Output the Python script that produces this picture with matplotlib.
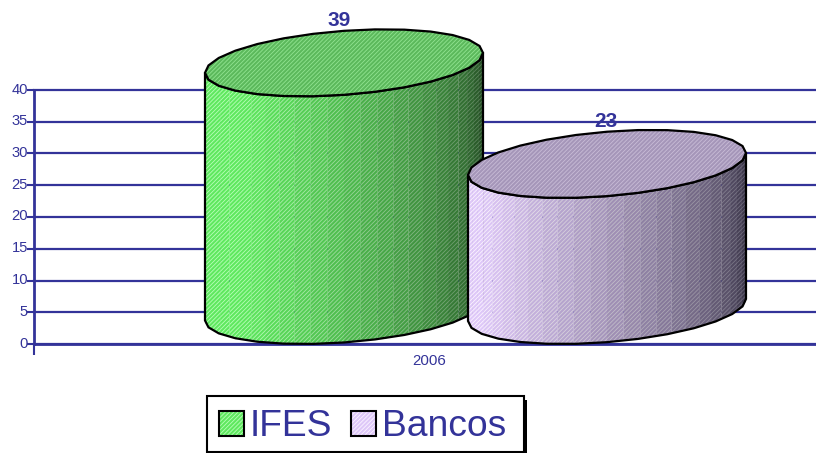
import numpy as np
import matplotlib
matplotlib.use("Agg")
import matplotlib.pyplot as plt
from matplotlib.patches import Polygon, Patch, Rectangle
from matplotlib.legend_handler import HandlerTuple
from matplotlib.transforms import ScaledTranslation

years = ["2006"]
series = ["IFES", "Bancos"]
values = [39, 23]
yticks = [0, 5, 10, 15, 20, 25, 30, 35, 40]

INK = "#333399"
W, H = 816, 453
plt.rcParams["font.family"] = ["Liberation Sans", "DejaVu Sans"]
plt.rcParams["hatch.linewidth"] = 0.6
HATCH = "////////"

fig = plt.figure(figsize=(W / 100, H / 100), dpi=100, facecolor="white")
ax = fig.add_axes([34 / W, 1 - 344 / H, 782 / W, 254 / H])
ax.set_xlim(0, 782)
ax.set_ylim(0, 40)
ax.patch.set_visible(False)
PX = 254 / 40

ax.set_yticks(yticks)
ax.set_xticks([395], years)
ax.set_xticks([0], minor=True)
ax.tick_params(axis="y", colors=INK, labelsize=10.6, length=5, width=1.5, pad=0)
ax.tick_params(axis="x", which="major", colors=INK, labelsize=10.8, length=0, pad=7)
ax.tick_params(axis="x", which="minor", colors=INK, length=8, width=1.5)
ax.grid(axis="y", color=INK, lw=1.6, zorder=1, clip_on=False)
for line in ax.get_ygridlines():
    line.set_clip_on(False)
nudge = ScaledTranslation(1 / 100, 2 / 100, fig.dpi_scale_trans)
for lab in ax.get_yticklabels():
    lab.set_transform(lab.get_transform() + nudge)
ax.set_axisbelow(True)
for s in ("top", "right"):
    ax.spines[s].set_visible(False)
for s in ("left", "bottom"):
    ax.spines[s].set_color(INK)
    ax.spines[s].set_linewidth(2)

def lerp(a, b, t):
    return tuple((1 - t) * np.array(a) / 255 + t * np.array(b) / 255)

styles = [
    dict(cx=310, a=139, b=32.0, s=10.0, start=0.22,
         base=((95, 232, 95), (36, 72, 36)), hatch=((185, 255, 185), (80, 115, 80)),
         top=(92, 185, 92), tophatch=(145, 228, 145)),
    dict(cx=573, a=139, b=32.2, s=11.0, start=0.12,
         base=((222, 200, 248), (52, 48, 66)), hatch=((252, 245, 255), (95, 92, 110)),
         top=(165, 150, 185), tophatch=(200, 188, 215)),
]

def rim(st, value, th):
    amp = np.hypot(st["b"], st["s"])
    x = st["cx"] - st["a"] * np.cos(th)
    y = value + (amp - st["b"] * np.sin(th) - st["s"] * np.cos(th)) / PX
    return x, y

for i, (value, st) in enumerate(zip(values, styles)):
    z = 3 + i * 3
    n = 26
    edges = np.linspace(0, np.pi, n + 1)
    for k in range(n):
        th = np.linspace(edges[k], edges[k + 1], 3)
        xt, yt = rim(st, value, th)
        xb, yb = rim(st, 0, th)
        t = np.clip((k / (n - 1) - st["start"]) / (1 - st["start"]), 0, 1) ** 1.25
        ax.add_patch(Polygon(np.r_[np.c_[xt, yt], np.c_[xb, yb][::-1]],
                             facecolor=lerp(*st["base"], t),
                             edgecolor=lerp(*st["hatch"], t),
                             hatch=HATCH, lw=0, zorder=z, clip_on=False))
    th = np.linspace(0, np.pi, 15)
    xt, yt = rim(st, value, th)
    xb, yb = rim(st, 0, th)
    ax.add_patch(Polygon(np.r_[np.c_[xt, yt], np.c_[xb, yb][::-1]], fill=False,
                         edgecolor="black", lw=1.6, zorder=z + 1, clip_on=False))
    th = np.linspace(0, 2 * np.pi, 29)
    xt, yt = rim(st, value, th)
    ax.add_patch(Polygon(np.c_[xt, yt], facecolor=lerp(st["top"], st["top"], 0),
                         edgecolor=lerp(st["tophatch"], st["tophatch"], 0),
                         hatch=HATCH, lw=0, zorder=z + 1, clip_on=False))
    ax.add_patch(Polygon(np.c_[xt, yt], fill=False, edgecolor="black", lw=1.6,
                         zorder=z + 2, clip_on=False))

for value, st in zip(values, styles):
    ax.text(st["cx"] - 5 if value == 39 else st["cx"] - 1, value + 12, str(value),
            color=INK, fontsize=15, fontweight="bold", ha="center", va="center",
            zorder=20, clip_on=False)

# legend frame with its hard shadow
fig.add_artist(Rectangle((212 / W, 1 - 458 / H), 315 / W, 58 / H, transform=fig.transFigure,
                         facecolor="black", edgecolor="black", lw=0, zorder=30))
fig.add_artist(Rectangle((207 / W, 1 - 452 / H), 317 / W, 56 / H, transform=fig.transFigure,
                         facecolor="white", edgecolor="black", lw=1.5, zorder=31))

handles = []
for st in styles:
    fillp = Patch(facecolor=lerp(st["base"][0], st["base"][0], 0),
                  edgecolor=lerp(st["hatch"][0], st["hatch"][0], 0), hatch=HATCH, lw=0)
    frame = Patch(fill=False, edgecolor="black", lw=1.5)
    handles.append((fillp, frame))
leg = fig.legend(handles, series, handler_map={tuple: HandlerTuple(ndivide=1, pad=0)},
                 loc="center", bbox_to_anchor=(362.5 / W, 1 - 427 / H), ncol=2,
                 frameon=False, fontsize=26.8, labelcolor=INK,
                 handlelength=0.68, handleheight=0.68, handletextpad=0.16,
                 columnspacing=0.5, borderpad=0, borderaxespad=0)
leg.set_zorder(32)

fig.savefig("out.png", dpi=100, facecolor="white")
